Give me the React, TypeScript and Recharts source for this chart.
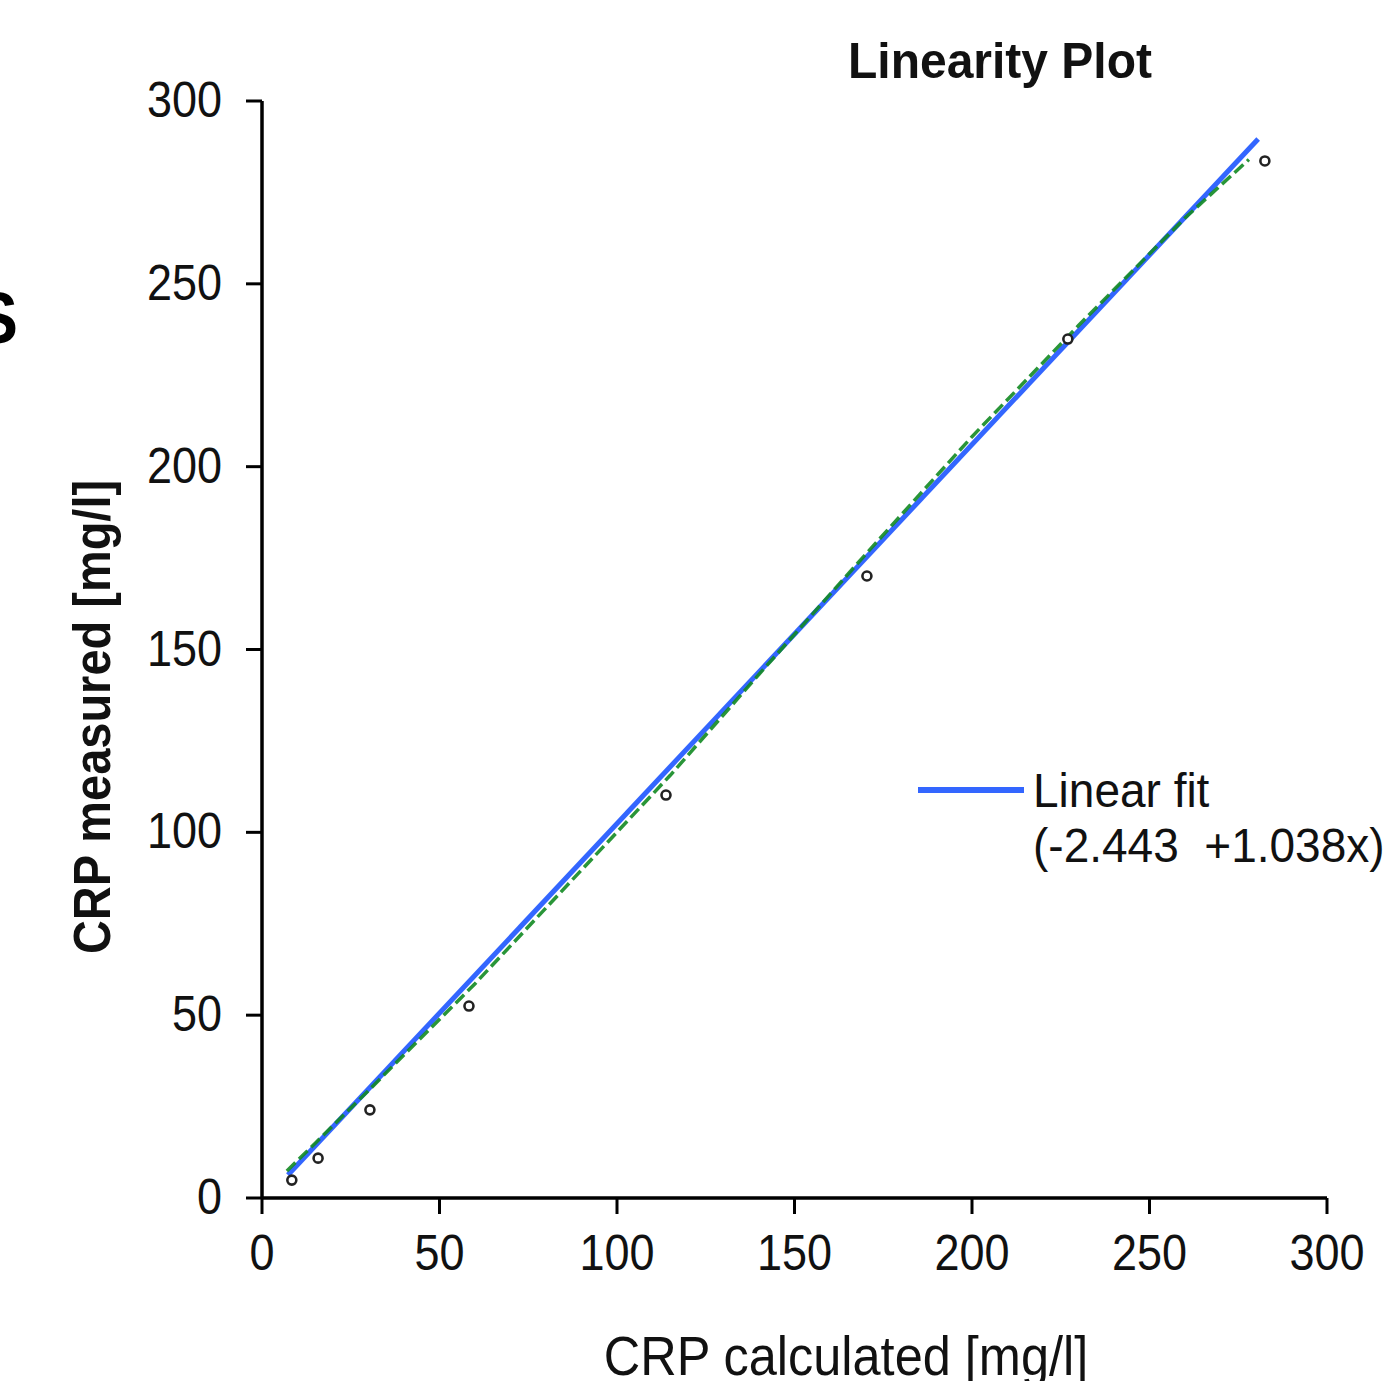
import React from 'react';
import { ScatterChart, Scatter, XAxis, YAxis } from 'recharts';

const X_TICKS = [0, 50, 100, 150, 200, 250, 300];
const Y_TICKS = [0, 50, 100, 150, 200, 250, 300];

const measuredPoints = [
  { x: 8.4, y: 4.9 },
  { x: 15.8, y: 10.9 },
  { x: 30.4, y: 24.1 },
  { x: 58.3, y: 52.5 },
  { x: 113.8, y: 110.2 },
  { x: 170.4, y: 170.1 },
  { x: 227.0, y: 234.9 },
  { x: 282.5, y: 283.6 },
];

const linearFit = [
  { x: 7.3, y: 6.3 },
  { x: 280.6, y: 289.6 },
];

const greenCurve = [
  { x: 7, y: 7.4 },
  { x: 15, y: 15.0 },
  { x: 30, y: 29.4 },
  { x: 60, y: 58.6 },
  { x: 115, y: 115.6 },
  { x: 140, y: 143.2 },
  { x: 170, y: 176.0 },
  { x: 200, y: 208.2 },
  { x: 230, y: 238.6 },
  { x: 260, y: 268.0 },
  { x: 278, y: 284.0 },
];

const TITLE = 'Linearity Plot';
const X_LABEL = 'CRP calculated [mg/l]';
const Y_LABEL = 'CRP measured [mg/l]';
const LEGEND_LINE1 = 'Linear fit';
const LEGEND_LINE2 = '(-2.443  +1.038x)';

const FONT = '"Liberation Sans", Arial, sans-serif';
const TEXT_COLOR = '#111';
const BLUE = '#3366ff';
const GREEN = '#128a22';

const YTick = (props: any) => {
  const { x, y, payload } = props;
  return (
    <g transform={`translate(${x},${y + 16}) scale(1,1.1)`}>
      <text x={0} y={0} textAnchor="end" fontFamily={FONT} fontSize={45} fill={TEXT_COLOR}>
        {payload.value}
      </text>
    </g>
  );
};

const XTick = (props: any) => {
  const { x, y, payload } = props;
  return (
    <g transform={`translate(${x},${y + 56}) scale(1,1.1)`}>
      <text x={0} y={0} textAnchor="middle" fontFamily={FONT} fontSize={45} fill={TEXT_COLOR}>
        {payload.value}
      </text>
    </g>
  );
};

const Dot = (props: any) => {
  const { cx, cy } = props;
  if (cx == null || cy == null) return <g />;
  return <circle cx={cx} cy={cy} r={4.5} fill="#fff" stroke="#222" strokeWidth={2.6} />;
};

const NoShape = () => <g />;

export default function App() {
  return (
    <div
      style={{
        position: 'absolute',
        left: 0,
        top: 0,
        width: 1391,
        height: 1381,
        overflow: 'hidden',
        background: '#fff',
      }}
    >
      <ScatterChart
        width={1391}
        height={1381}
        margin={{ top: 101, right: 64, bottom: 63, left: 0 }}
      >
        <XAxis
          type="number"
          dataKey="x"
          domain={[0, 300]}
          ticks={X_TICKS}
          interval={0}
          height={120}
          tickSize={16}
          tickMargin={0}
          axisLine={{ stroke: '#000', strokeWidth: 3.5 }}
          tickLine={{ stroke: '#000', strokeWidth: 3 }}
          tick={<XTick />}
          allowDataOverflow
        />
        <YAxis
          type="number"
          dataKey="y"
          domain={[0, 300]}
          ticks={Y_TICKS}
          interval={0}
          width={262}
          tickSize={16}
          tickMargin={24}
          axisLine={{ stroke: '#000', strokeWidth: 3.5 }}
          tickLine={{ stroke: '#000', strokeWidth: 3 }}
          tick={<YTick />}
          allowDataOverflow
        />
        <Scatter
          name="Linear fit"
          data={linearFit}
          line={{ stroke: BLUE, strokeWidth: 5 }}
          shape={NoShape}
          isAnimationActive={false}
        />
        <Scatter
          name="curve"
          data={greenCurve}
          line={{ stroke: GREEN, strokeWidth: 3.5, strokeDasharray: '12 5', strokeOpacity: 0.9 }}
          shape={NoShape}
          isAnimationActive={false}
        />
        <Scatter
          name="measured"
          data={measuredPoints}
          shape={Dot}
          isAnimationActive={false}
        />
      </ScatterChart>
      <svg
        width={1391}
        height={1381}
        style={{ position: 'absolute', left: 0, top: 0, pointerEvents: 'none' }}
      >
        <g transform="translate(18,343) scale(1,1.1)">
          <text x={0} y={0} textAnchor="end" fontFamily={FONT} fontWeight="bold" fontSize={66} fill="#000">
            S
          </text>
        </g>
        <g transform="translate(1000,78) scale(1,1.05)">
          <text x={0} y={0} textAnchor="middle" fontFamily={FONT} fontWeight="bold" fontSize={48} fill={TEXT_COLOR}>
            {TITLE}
          </text>
        </g>
        <g transform="translate(846,1375) scale(1,1.1)">
          <text x={0} y={0} textAnchor="middle" fontFamily={FONT} fontSize={50.5} fill={TEXT_COLOR}>
            {X_LABEL}
          </text>
        </g>
        <g transform="translate(110,717) rotate(-90) scale(1,1.12)">
          <text x={0} y={0} textAnchor="middle" fontFamily={FONT} fontWeight="bold" fontSize={47} fill={TEXT_COLOR}>
            {Y_LABEL}
          </text>
        </g>
        <line x1={918} y1={790} x2={1024} y2={790} stroke={BLUE} strokeWidth={6} />
        <g transform="translate(1033,807) scale(1,1.05)">
          <text x={0} y={0} fontFamily={FONT} fontSize={46} fill={TEXT_COLOR}>
            {LEGEND_LINE1}
          </text>
        </g>
        <g transform="translate(1033,862) scale(1,1.05)">
          <text x={0} y={0} fontFamily={FONT} fontSize={46} fill={TEXT_COLOR} style={{ whiteSpace: 'pre' }}>
            {LEGEND_LINE2}
          </text>
        </g>
      </svg>
    </div>
  );
}
